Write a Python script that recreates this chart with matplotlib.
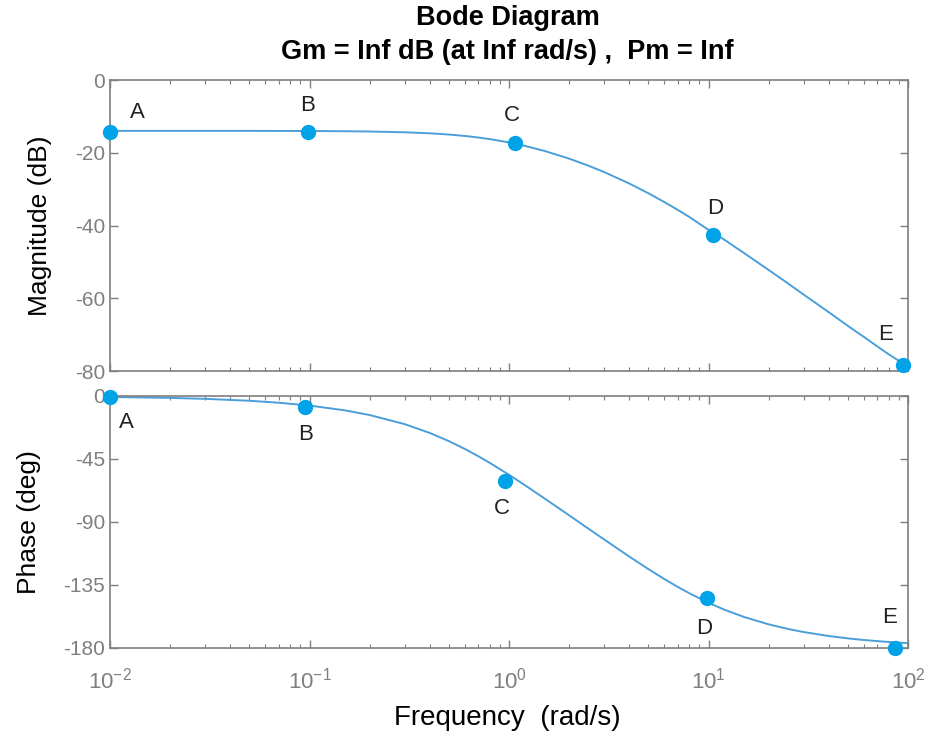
import numpy as np
import matplotlib
matplotlib.use("Agg")
from matplotlib import pyplot as plt
from matplotlib.ticker import LogLocator, NullFormatter

plt.rcParams['font.family'] = ['Liberation Sans', 'DejaVu Sans']
plt.rcParams['mathtext.fontset'] = 'custom'
plt.rcParams['mathtext.rm'] = 'Liberation Sans'
plt.rcParams['mathtext.it'] = 'Liberation Sans'
plt.rcParams['axes.unicode_minus'] = False

# curve
freq = [0.01, 0.02, 0.03, 0.05, 0.07, 0.1, 0.15, 0.2, 0.3, 0.4, 0.5, 0.6, 0.7, 0.8,
        1, 1.2, 1.5, 2, 2.5, 3, 4, 5, 6, 7, 8, 10, 12, 15, 20, 25, 30, 40, 50,
        60, 70, 80, 100]
mag_db = [-13.98, -13.98, -13.98, -13.99, -14.00, -14.02, -14.08, -14.16, -14.37,
          -14.65, -14.99, -15.38, -15.80, -16.24, -17.16, -18.10, -19.47, -21.61,
          -23.55, -25.31, -28.43, -31.14, -33.54, -35.68, -37.62, -41.2, -43.9,
          -47.5, -52.2, -55.9, -59.0, -63.8, -67.6, -70.6, -73.2, -75.4, -78.8]
phase_deg = [-0.69, -1.38, -2.06, -3.43, -4.81, -6.86, -10.25, -13.60, -20.13,
             -26.37, -32.28, -37.80, -42.96, -47.75, -56.31, -63.69, -73.01,
             -85.23, -94.77, -102.53, -114.62, -123.69, -130.73, -136.33,
             -140.86, -147.72, -152.62, -157.76, -163.10, -166.40, -168.63,
             -171.44, -173.14, -174.29, -175.09, -175.70, -176.57]

# marked points
point_names = ['A', 'B', 'C', 'D', 'E']
mag_pt_freq = [0.01, 0.098, 1.07, 10.5, 94]
mag_pt_val = [-14.2, -14.2, -17.3, -42.6, -78.4]
ph_pt_freq = [0.01, 0.095, 0.955, 9.8, 86]
ph_pt_val = [-1.0, -7.9, -60.7, -144.3, -180.0]

# label offsets in points (dx, dy)
mag_lbl_off = [(20, 14), (0, 19), (-2, 20), (2, 19), (-12, 22)]
ph_lbl_off = [(12, -18), (0, -20), (-2, -20), (-2, -22), (-4, 22)]

line_c = '#4a9fd8'
dot_c = '#00a2e8'
grey = '#7f7f7f'

fig = plt.figure(figsize=(9.27, 7.36), dpi=100)
ax1 = fig.add_axes([0.1187, 0.4959, 0.8608, 0.3954])
ax2 = fig.add_axes([0.1187, 0.1196, 0.8608, 0.3424])

ax1.plot(freq, mag_db, color=line_c, lw=1.4)
ax1.plot(mag_pt_freq, mag_pt_val, 'o', color=dot_c, ms=10, ls='none', clip_on=False, zorder=5)
for n, x, y, off in zip(point_names, mag_pt_freq, mag_pt_val, mag_lbl_off):
    ax1.annotate(n, (x, y), xytext=off, textcoords='offset points', ha='center', va='center',
                 fontsize=16, color='#222222')

ax2.plot(freq, phase_deg, color=line_c, lw=1.4)
ax2.plot(ph_pt_freq, ph_pt_val, 'o', color=dot_c, ms=10, ls='none', clip_on=False, zorder=5)
for n, x, y, off in zip(point_names, ph_pt_freq, ph_pt_val, ph_lbl_off):
    ax2.annotate(n, (x, y), xytext=off, textcoords='offset points', ha='center', va='center',
                 fontsize=16, color='#222222')

for ax in (ax1, ax2):
    ax.set_xscale('log')
    ax.set_xlim(0.01, 100)
    ax.xaxis.set_major_locator(LogLocator(base=10, numticks=10))
    ax.xaxis.set_minor_locator(LogLocator(base=10, subs=np.arange(2, 10), numticks=20))
    ax.xaxis.set_minor_formatter(NullFormatter())
    ax.tick_params(which='both', direction='in', top=True, right=True, colors=grey,
                   labelsize=15, labelcolor=grey)
    ax.tick_params(which='major', length=6, width=1)
    ax.tick_params(which='minor', length=3, width=0.8)
    for s in ax.spines.values():
        s.set_color(grey)
        s.set_linewidth(1.2)

ax1.set_ylim(-80, 0)
ax1.set_yticks([0, -20, -40, -60, -80])
ax1.tick_params(labelbottom=False)
ax1.set_ylabel('Magnitude (dB)', fontsize=19)
ax1.yaxis.set_label_coords(-0.073, 0.5)

ax2.set_ylim(-180, 0)
ax2.set_yticks([0, -45, -90, -135, -180])
ax2.set_ylabel('Phase (deg)', fontsize=19)
ax2.yaxis.set_label_coords(-0.086, 0.5)
ax2.tick_params(axis='x', pad=14, labelsize=16)

fig.text(0.5475, 0.025, 'Frequency  (rad/s)', ha='center', va='center', fontsize=20)

fig.text(0.5475, 0.975, 'Bode Diagram', ha='center', va='center', fontsize=19.5, fontweight='bold')
fig.text(0.5475, 0.929, 'Gm = Inf dB (at Inf rad/s) ,  Pm = Inf', ha='center', va='center',
         fontsize=19.5, fontweight='bold')

fig.savefig('out.png', dpi=100)
